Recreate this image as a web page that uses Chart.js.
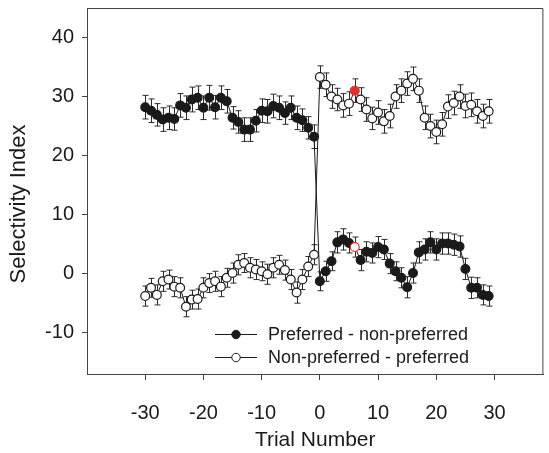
<!DOCTYPE html>
<html>
<head>
<meta charset="utf-8">
<script src="https://cdn.jsdelivr.net/npm/chart.js@4.4.0/dist/chart.umd.min.js"></script>
<style>
  html, body { margin: 0; padding: 0; background: #fff; }
</style>
</head>
<body>
<canvas id="chart" width="549" height="453"></canvas>
<script>
// trial numbers (x)
const trials = [-30,-29,-28,-27,-26,-25,-24,-23,-22,-21,-20,-19,-18,-17,-16,-15,-14,-13,-12,-11,-10,-9,-8,-7,-6,-5,-4,-3,-2,-1,
                0,1,2,3,4,5,6,7,8,9,10,11,12,13,14,15,16,17,18,19,20,21,22,23,24,25,26,27,28,29];

// Preferred - non-preferred (filled circles)
const prefNonPref = [28.2,27.6,26.9,26.1,26.4,26.2,28.5,28.1,29.5,29.8,28.1,29.8,28.2,29.8,29.2,26.4,25.7,24.4,24.4,25.9,27.6,27.5,28.4,28.1,27.2,28.1,26.4,26.0,24.7,23.2,
                     -1.3,0.4,2.1,5.3,5.8,5.2,4.5,2.3,3.7,3.5,4.5,4.1,1.7,0.4,-0.7,-2.3,0.1,3.6,4.1,5.3,4.1,5.1,5.1,4.9,4.6,0.8,-2.4,-2.4,-3.6,-3.8];
const prefNonPrefErr = [2.0,2.0,1.9,2.0,2.0,1.9,2.0,2.0,2.1,2.0,2.0,2.1,2.0,2.0,2.0,1.9,1.9,2.0,2.0,1.9,2.0,2.0,2.0,2.0,1.9,2.0,2.0,1.9,1.9,2.0,
                        1.6,1.7,1.6,1.8,1.8,1.7,1.7,1.8,1.7,1.7,1.8,1.7,1.7,1.6,1.7,1.8,1.7,1.8,1.8,1.8,1.8,1.8,1.8,1.8,1.8,1.8,1.8,1.7,1.7,1.7];

// Non-preferred - preferred (open circles)
const nonPrefPref = [-3.8,-2.4,-3.6,-1.3,-1.0,-2.2,-2.4,-5.6,-4.4,-4.3,-2.4,-1.6,-1.3,-2.2,-0.7,0.1,1.5,1.8,1.0,0.7,0.4,-0.1,1.0,1.5,0.6,-1.0,-3.2,-1.0,1.2,3.2,
                     33.3,32.0,30.0,29.5,28.5,28.8,31.0,29.5,27.8,26.3,27.3,25.8,26.7,30.0,31.0,32.2,33.0,31.0,26.4,25.0,24.0,25.3,28.3,28.9,30.0,28.4,28.6,27.5,26.7,27.5];
const nonPrefPrefErr = [1.7,1.6,1.7,1.7,1.6,1.7,1.7,1.7,1.6,1.7,1.7,1.6,1.7,1.7,1.6,1.7,1.7,1.6,1.7,1.7,1.6,1.7,1.7,1.6,1.7,1.7,1.8,1.7,1.7,1.7,
                        1.9,2.0,2.0,1.9,2.0,2.0,2.0,2.0,2.0,1.9,2.0,2.0,2.0,2.0,2.0,2.0,2.0,2.0,2.0,2.0,2.0,2.0,2.0,2.0,2.0,2.0,2.0,2.0,2.0,2.0];

const highlightTrial = 6;
const xTicks = [-30,-20,-10,0,10,20,30];
const yTicks = [-10,0,10,20,30,40];
const legendLabels = ['Preferred - non-preferred', 'Non-preferred - preferred'];
const yTitle = 'Selectivity Index';

const FONT = "'Liberation Sans', Arial, Helvetica, sans-serif";
const ink = '#1a1a1a';
const red = '#e0312b';

const toPoints = vals => trials.map((t, i) => ({ x: t, y: vals[i] }));

const filledBg = trials.map(t => t === highlightTrial ? '#fff' : ink);
const filledBorder = trials.map(t => t === highlightTrial ? red : ink);
const openBg = trials.map(t => t === highlightTrial ? red : '#fff');
const openBorder = trials.map(t => t === highlightTrial ? red : ink);

// error bars drawn under the markers
const errorBars = {
  id: 'errorBars',
  beforeDatasetsDraw(chart) {
    const { ctx, scales: { x, y } } = chart;
    ctx.save();
    ctx.strokeStyle = '#2a2a2a';
    ctx.lineWidth = 1;
    chart.data.datasets.forEach(ds => {
      ds.data.forEach((p, i) => {
        const e = ds.errors[i];
        const px = Math.round(x.getPixelForValue(p.x)) + 0.5;
        const top = y.getPixelForValue(p.y + e);
        const bot = y.getPixelForValue(p.y - e);
        ctx.beginPath();
        ctx.moveTo(px, top); ctx.lineTo(px, bot);
        ctx.moveTo(px - 3, top); ctx.lineTo(px + 3, top);
        ctx.moveTo(px - 3, bot); ctx.lineTo(px + 3, bot);
        ctx.stroke();
      });
    });
    ctx.restore();
  }
};

// top + right frame lines, and the y title (sits a bit below centre in the original)
const frame = {
  id: 'frame',
  afterDraw(chart) {
    const { ctx, chartArea: a } = chart;
    ctx.save();
    ctx.strokeStyle = '#444';
    ctx.lineWidth = 1;
    ctx.beginPath();
    ctx.moveTo(a.left, a.top + 0.5); ctx.lineTo(a.right - 0.5, a.top + 0.5);
    ctx.lineTo(a.right - 0.5, a.bottom);
    ctx.stroke();

    ctx.translate(19, 204);
    ctx.rotate(-Math.PI / 2);
    ctx.fillStyle = ink;
    ctx.font = '22px ' + FONT;
    ctx.textAlign = 'center';
    ctx.textBaseline = 'middle';
    ctx.fillText(yTitle, 0, 0);
    ctx.restore();
  }
};

// legend inside the plot, line with marker in middle
const innerLegend = {
  id: 'innerLegend',
  afterDraw(chart) {
    const { ctx } = chart;
    const rows = [{ y: 334, fill: ink }, { y: 357, fill: '#fff' }];
    ctx.save();
    rows.forEach((r, i) => {
      ctx.strokeStyle = ink;
      ctx.lineWidth = 1;
      ctx.beginPath();
      ctx.moveTo(215, r.y + 0.5); ctx.lineTo(257, r.y + 0.5);
      ctx.stroke();
      ctx.beginPath();
      ctx.arc(236, r.y + 0.5, 4.2, 0, Math.PI * 2);
      ctx.fillStyle = r.fill;
      ctx.fill();
      ctx.stroke();
      ctx.fillStyle = ink;
      ctx.font = '18px ' + FONT;
      ctx.textBaseline = 'middle';
      ctx.fillText(legendLabels[i], 268, r.y + 1);
    });
    ctx.restore();
  }
};

new Chart(document.getElementById('chart'), {
  type: 'line',
  data: {
    datasets: [
      {
        label: legendLabels[0],
        data: toPoints(prefNonPref),
        errors: prefNonPrefErr,
        borderColor: ink, borderWidth: 1,
        pointRadius: 4.4, pointBorderWidth: 1.2,
        pointBackgroundColor: filledBg, pointBorderColor: filledBorder,
        tension: 0, fill: false
      },
      {
        label: legendLabels[1],
        data: toPoints(nonPrefPref),
        errors: nonPrefPrefErr,
        borderColor: ink, borderWidth: 1,
        pointRadius: 4.4, pointBorderWidth: 1.2,
        pointBackgroundColor: openBg, pointBorderColor: openBorder,
        tension: 0, fill: false
      }
    ]
  },
  options: {
    responsive: false,
    animation: false,
    layout: { padding: { top: 8, right: 1, left: 0, bottom: 0 } },
    plugins: { legend: { display: false }, tooltip: { enabled: false } },
    scales: {
      x: {
        type: 'linear', min: -40, max: 38.4,
        afterBuildTicks: s => { s.ticks = xTicks.map(v => ({ value: v })); },
        afterFit: s => { s.height = 79; s.paddingLeft = 0; s.paddingRight = 0; },
        border: { display: true, color: '#444', width: 1 },
        grid: { drawOnChartArea: false, drawTicks: true, tickLength: 6, color: '#444' },
        ticks: { font: { family: FONT, size: 20 }, color: ink, padding: 21, maxRotation: 0 },
        title: { display: true, text: 'Trial Number', font: { family: FONT, size: 21 }, color: ink, padding: { top: 0, bottom: 0 } }
      },
      y: {
        type: 'linear', min: -17, max: 45,
        afterBuildTicks: s => { s.ticks = yTicks.map(v => ({ value: v })); },
        afterFit: s => { s.width = 87; s.paddingTop = 0; s.paddingBottom = 0; },
        border: { display: true, color: '#444', width: 1 },
        grid: { drawOnChartArea: false, drawTicks: true, tickLength: 5, color: '#444' },
        ticks: { font: { family: FONT, size: 20 }, color: ink, padding: 8 }
      }
    }
  },
  plugins: [errorBars, frame, innerLegend]
});
</script>
</body>
</html>
